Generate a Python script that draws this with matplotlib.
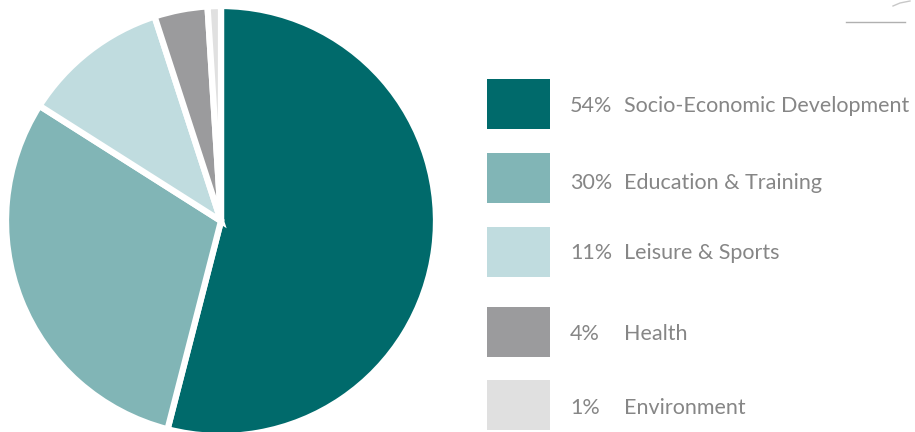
import matplotlib
matplotlib.use("Agg")
import matplotlib.pyplot as plt
from matplotlib.patches import Rectangle

labels = ["Socio-Economic Development", "Education & Training", "Leisure & Sports", "Health", "Environment"]
values = [54, 30, 11, 4, 1]
colors = ["#006A6B", "#81B5B6", "#C0DCDF", "#9B9B9D", "#E0E0E0"]
box_y = [104, 178, 252, 332, 405]
text_y = [106, 183, 253, 334, 408]

fig = plt.figure(figsize=(9.15, 4.32), dpi=100)
ax = fig.add_axes([0, 0, 1, 1])

ax.pie(values, colors=colors, startangle=90, counterclock=False,
       center=(221, 432 - 221), radius=215, frame=True,
       wedgeprops=dict(edgecolor="white", linewidth=4.5))
ax.set_xlim(0, 915)
ax.set_ylim(0, 432)
ax.set_aspect("equal")
ax.axis("off")

tc = "#868686"
for lab, v, c, yb, yt in zip(labels, values, colors, box_y, text_y):
    ax.add_patch(Rectangle((487, 432 - yb - 25), 63, 50, facecolor=c, edgecolor="none"))
    ax.text(570, 432 - yt, f"{v}%", fontsize=15.5, color=tc, va="center", ha="left", family="Lato")
    ax.text(624, 432 - yt, lab, fontsize=15.5, color=tc, va="center", ha="left", family="Lato")

# decorative line top-right
ax.plot([846, 905], [432 - 22, 432 - 22], color="#b0b0b0", lw=1)
ax.plot([893, 900, 910], [432 - 6, 432 - 3, 432 - 1], color="#c8c8c8", lw=1)

fig.savefig("out.png", dpi=100)
